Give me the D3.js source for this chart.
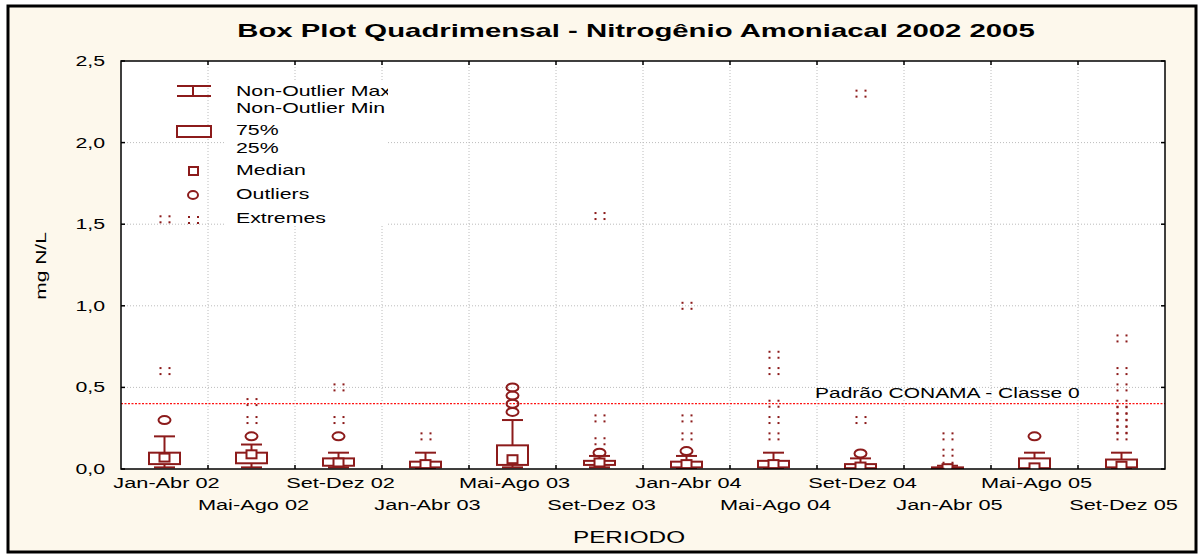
<!DOCTYPE html>
<html>
<head>
<meta charset="utf-8">
<script src="https://cdn.jsdelivr.net/npm/d3@7"></script>
<style>
  body { margin: 0; background: #ffffff; }
  svg { display: block; }
  text { font-family: "Liberation Sans", Arial, sans-serif; fill: #000; }
</style>
</head>
<body>
<svg id="chart" width="1202" height="557"></svg>
<script>
// periods (quadrimesters)
var categories = ["Jan-Abr 02", "Mai-Ago 02", "Set-Dez 02", "Jan-Abr 03", "Mai-Ago 03", "Set-Dez 03",
                  "Jan-Abr 04", "Mai-Ago 04", "Set-Dez 04", "Jan-Abr 05", "Mai-Ago 05", "Set-Dez 05"];
var whiskerMin = [0.01, 0.01, 0.01, 0.005, 0.01, 0.01, 0.005, 0.005, 0.005, 0.0, 0.0, 0.005];
var q1         = [0.03, 0.035, 0.02, 0.01, 0.025, 0.025, 0.01, 0.01, 0.005, 0.0, 0.005, 0.01];
var median     = [0.07, 0.09, 0.04, 0.03, 0.06, 0.04, 0.03, 0.03, 0.015, 0.005, 0.01, 0.02];
var q3         = [0.10, 0.10, 0.065, 0.045, 0.145, 0.05, 0.045, 0.05, 0.03, 0.01, 0.065, 0.058];
var whiskerMax = [0.20, 0.15, 0.10, 0.10, 0.30, 0.08, 0.08, 0.10, 0.065, 0.02, 0.10, 0.10];
var outliers = [[0.30], [0.20], [0.20], [], [0.35, 0.40, 0.45, 0.50], [0.10],
                [0.11], [], [0.095], [], [0.20], []];
var extremes = [[0.60, 1.53], [0.30, 0.41], [0.30, 0.50], [0.20], [], [0.17, 0.31, 1.55],
                [0.20, 0.31, 1.00], [0.20, 0.30, 0.40, 0.60, 0.70], [0.30, 2.30], [0.02, 0.10, 0.20], [],
                [0.20, 0.24, 0.28, 0.32, 0.36, 0.40, 0.50, 0.60, 0.80]];
var yTicks = [0, 0.5, 1.0, 1.5, 2.0, 2.5];
var limitValue = 0.4;
var limitLabel = "Padrão CONAMA - Classe 0";
var legendItems = ["Non-Outlier Max", "Non-Outlier Min", "75%", "25%", "Median", "Outliers", "Extremes"];

(function() {
  "use strict";

  var pLeft = 121, pRight = 1165, pTop = 61, pBottom = 469;
  var SX = 1.42;           // the original text is horizontally stretched
  var dark = "#8c1b1b";

  var svg = d3.select("#chart");

  // outer frame
  svg.append("rect").attr("x", 8).attr("y", 6).attr("width", 1188).attr("height", 546)
     .attr("fill", "#fdf8ec").attr("stroke", "#000").attr("stroke-width", 3);

  function txt(g, x, y, s, size, anchor, sx) {
    return g.append("text")
      .attr("transform", "translate(" + x + "," + y + ") scale(" + (sx || SX) + ",1)")
      .attr("font-size", size)
      .attr("text-anchor", anchor || "start")
      .text(s);
  }

  var x = d3.scaleBand().domain(categories).range([pLeft, pRight]).padding(0);
  var y = d3.scaleLinear().domain([0, 2.5]).range([pBottom, pTop]);
  var fmt = function(v) { return d3.format(".1f")(v).replace(".", ","); };

  svg.append("rect").attr("x", pLeft).attr("y", pTop).attr("width", pRight - pLeft).attr("height", pBottom - pTop)
     .attr("fill", "#fff");

  // grid
  var grid = svg.append("g");
  grid.selectAll("line.v").data(categories.slice(1)).enter().append("line")
    .attr("x1", function(d) { return x(d); }).attr("x2", function(d) { return x(d); })
    .attr("y1", pTop).attr("y2", pBottom)
    .attr("stroke", "#bcbcbc").attr("stroke-dasharray", "1,2");
  grid.selectAll("line.h").data(yTicks.slice(1, -1)).enter().append("line")
    .attr("x1", pLeft).attr("x2", pRight)
    .attr("y1", function(d) { return y(d); }).attr("y2", function(d) { return y(d); })
    .attr("stroke", "#bcbcbc").attr("stroke-dasharray", "1,2");

  // legend (white band behind text, clipped)
  var lg = svg.append("g");
  svg.append("clipPath").attr("id", "lgclip").append("rect")
     .attr("x", 226).attr("y", 74).attr("width", 162).attr("height", 160);
  lg.append("rect").attr("x", 226).attr("y", 80).attr("width", 162).attr("height", 146).attr("fill", "#fff");
  var lgt = lg.append("g").attr("clip-path", "url(#lgclip)");
  var lgY = [96, 113, 135, 153, 175, 199, 223];
  legendItems.forEach(function(s, i) { txt(lgt, 236, lgY[i], s, 15); });
  lg.append("line").attr("x1", 177).attr("x2", 211).attr("y1", 86).attr("y2", 86).attr("stroke", dark).attr("stroke-width", 2);
  lg.append("line").attr("x1", 177).attr("x2", 211).attr("y1", 96).attr("y2", 96).attr("stroke", dark).attr("stroke-width", 2);
  lg.append("line").attr("x1", 193).attr("x2", 193).attr("y1", 86).attr("y2", 96).attr("stroke", dark).attr("stroke-width", 2);
  lg.append("rect").attr("x", 177).attr("y", 126).attr("width", 34).attr("height", 11)
    .attr("fill", "#fff").attr("stroke", dark).attr("stroke-width", 2);
  lg.append("rect").attr("x", 189).attr("y", 167).attr("width", 9).attr("height", 8)
    .attr("fill", "#fff").attr("stroke", dark).attr("stroke-width", 2);
  lg.append("ellipse").attr("cx", 193).attr("cy", 195).attr("rx", 5).attr("ry", 4)
    .attr("fill", "none").attr("stroke", dark).attr("stroke-width", 2);

  function extremeMark(g, cx, cy) {
    [[-5, -3], [4, -3], [-5, 3], [4, 3]].forEach(function(o) {
      g.append("rect").attr("x", cx + o[0]).attr("y", cy + o[1] - 1).attr("width", 2).attr("height", 2)
       .attr("fill", dark);
    });
  }
  extremeMark(lg, 193, 220);

  // limit line
  svg.append("line").attr("x1", pLeft).attr("x2", pRight).attr("y1", y(limitValue)).attr("y2", y(limitValue))
     .attr("stroke", "#ff1010").attr("stroke-width", 1.2).attr("stroke-dasharray", "2,1.5");
  txt(svg, 815, 398, limitLabel, 15, "start", 1.4);

  // boxes
  svg.append("clipPath").attr("id", "plotclip").append("rect")
     .attr("x", pLeft).attr("y", pTop).attr("width", pRight - pLeft).attr("height", pBottom - pTop);
  var plot = svg.append("g").attr("clip-path", "url(#plotclip)");
  var bw = 31, cw = 21;
  categories.forEach(function(c, i) {
    var cx = x(c) + x.bandwidth() / 2;
    var g = plot.append("g").attr("stroke", dark).attr("stroke-width", 2).attr("fill", "#fff");
    g.append("line").attr("x1", cx).attr("x2", cx).attr("y1", y(q3[i])).attr("y2", y(whiskerMax[i]));
    g.append("line").attr("x1", cx).attr("x2", cx).attr("y1", y(q1[i])).attr("y2", y(whiskerMin[i]));
    g.append("line").attr("x1", cx - cw / 2).attr("x2", cx + cw / 2).attr("y1", y(whiskerMax[i])).attr("y2", y(whiskerMax[i]));
    g.append("line").attr("x1", cx - cw / 2).attr("x2", cx + cw / 2).attr("y1", y(whiskerMin[i])).attr("y2", y(whiskerMin[i]));
    g.append("rect").attr("x", cx - bw / 2).attr("y", y(q3[i])).attr("width", bw)
      .attr("height", Math.max(y(q1[i]) - y(q3[i]), 1));
    g.append("rect").attr("x", cx - 5).attr("y", y(median[i]) - 4).attr("width", 10).attr("height", 8);
    outliers[i].forEach(function(v) {
      g.append("ellipse").attr("cx", cx).attr("cy", y(v)).attr("rx", 6).attr("ry", 4).attr("fill", "none");
    });
    extremes[i].forEach(function(v) { extremeMark(plot, cx, y(v)); });
  });

  // plot border and inward ticks
  svg.append("rect").attr("x", pLeft).attr("y", pTop).attr("width", pRight - pLeft).attr("height", pBottom - pTop)
     .attr("fill", "none").attr("stroke", "#000").attr("stroke-width", 1.5);
  var ticks = svg.append("g").attr("stroke", "#000").attr("stroke-width", 1.5);
  categories.slice(1).forEach(function(c) {
    ticks.append("line").attr("x1", x(c)).attr("x2", x(c)).attr("y1", pBottom).attr("y2", pBottom - 4);
    ticks.append("line").attr("x1", x(c)).attr("x2", x(c)).attr("y1", pTop).attr("y2", pTop + 4);
  });
  yTicks.forEach(function(v) {
    ticks.append("line").attr("x1", pLeft).attr("x2", pLeft + 4).attr("y1", y(v)).attr("y2", y(v));
    ticks.append("line").attr("x1", pRight).attr("x2", pRight - 4).attr("y1", y(v)).attr("y2", y(v));
  });

  // axis labels
  yTicks.forEach(function(v) { txt(svg, 105, y(v) + 5, fmt(v), 15, "end"); });
  categories.forEach(function(c, i) {
    txt(svg, x(c) + x.bandwidth() / 2 + 2, i % 2 === 0 ? 488 : 510, c, 15, "middle", 1.45);
  });
  txt(svg, 629, 543, "PERIODO", 17, "middle", 1.43);
  svg.append("text")
     .attr("transform", "translate(46,266) rotate(-90) scale(1.4,1)")
     .attr("font-size", 15).attr("text-anchor", "middle").text("mg N/L");

  // title
  txt(svg, 636, 37, "Box Plot Quadrimensal - Nitrogênio Amoniacal 2002 2005", 18, "middle", 1.63)
    .attr("font-weight", "bold");
}());
</script>
</body>
</html>
